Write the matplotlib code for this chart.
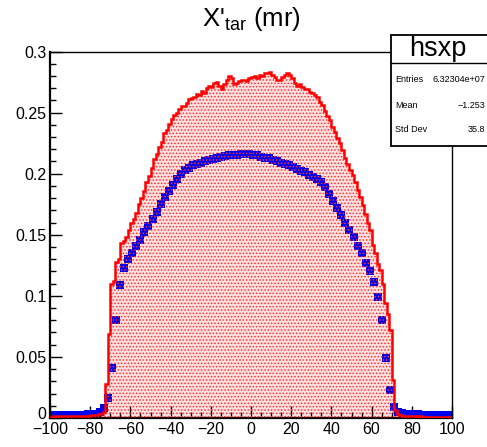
import numpy as np
import matplotlib
matplotlib.use("Agg")
import matplotlib.pyplot as plt
import matplotlib.transforms as mtransforms
from matplotlib.patches import Rectangle
from matplotlib.lines import Line2D

plt.rcParams['font.family'] = ['Liberation Sans', 'DejaVu Sans']
plt.rcParams['mathtext.fontset'] = 'custom'
plt.rcParams['mathtext.rm'] = 'Liberation Sans'
plt.rcParams['hatch.linewidth'] = 0.7

# red histogram: 160 bins of 1.25 from -100 to 100
red_edges = np.linspace(-100, 100, 161)
red_vals = [
    0.0012, 0.0013, 0.0012, 0.0013, 0.0014, 0.0013, 0.0014, 0.0015,   # -100..-90
    0.0015, 0.0016, 0.0015, 0.0017, 0.0017, 0.0018, 0.0019, 0.0020,   # -90..-80
    0.0022, 0.0024, 0.0027, 0.0030, 0.0036, 0.0050, 0.028, 0.069,     # -80..-70
    0.110, 0.112, 0.128, 0.130, 0.143, 0.145, 0.148, 0.154,           # -70..-60
    0.160, 0.163, 0.168, 0.1755, 0.180, 0.186, 0.193, 0.198,          # -60..-50
    0.205, 0.212, 0.216, 0.222, 0.226, 0.233, 0.236, 0.241,           # -50..-40
    0.245, 0.248, 0.250, 0.253, 0.2555, 0.255, 0.258, 0.261,          # -40..-30
    0.262, 0.263, 0.265, 0.264, 0.268, 0.266, 0.270, 0.272,           # -30..-20
    0.271, 0.274, 0.275, 0.272, 0.2695, 0.273, 0.2765, 0.280,         # -20..-10
    0.278, 0.2735, 0.274, 0.2755, 0.2765, 0.277, 0.276, 0.278,        # -10..0
    0.279, 0.280, 0.2785, 0.281, 0.280, 0.282, 0.2825, 0.283,         # 0..10
    0.281, 0.279, 0.277, 0.2765, 0.279, 0.281, 0.282, 0.281,          # 10..20
    0.278, 0.274, 0.272, 0.273, 0.271, 0.2695, 0.269, 0.267,          # 20..30
    0.266, 0.264, 0.263, 0.259, 0.256, 0.251, 0.247, 0.244,           # 30..40
    0.238, 0.234, 0.229, 0.225, 0.219, 0.213, 0.208, 0.203,           # 40..50
    0.199, 0.193, 0.187, 0.181, 0.174, 0.167, 0.160, 0.154,           # 50..60
    0.142, 0.135, 0.126, 0.121, 0.110, 0.094, 0.085, 0.072,           # 60..70
    0.031, 0.0065, 0.0030, 0.0022, 0.0018, 0.0016, 0.0015, 0.0014,    # 70..80
    0.0013, 0.0013, 0.0012, 0.0013, 0.0012, 0.0012, 0.0011, 0.0012,   # 80..90
    0.0011, 0.0011, 0.0012, 0.0011, 0.0010, 0.0011, 0.0010, 0.0010,   # 90..100
]

# blue points: 100 bins of 2
blue_x = np.arange(-99, 100, 2)
blue_vals = [
    0.0022, 0.0023, 0.0024, 0.0024, 0.0025, 0.0026, 0.0026, 0.0027, 0.0028, 0.0030,  # -99..-81
    0.0032, 0.0036, 0.005, 0.008, 0.016, 0.041, 0.080, 0.109, 0.123, 0.130,          # -79..-61
    0.135, 0.141, 0.146, 0.152, 0.157, 0.163, 0.169, 0.175, 0.181, 0.186,            # -59..-41
    0.191, 0.196, 0.200, 0.203, 0.205, 0.207, 0.208, 0.209, 0.210, 0.211,            # -39..-21
    0.212, 0.213, 0.214, 0.2145, 0.215, 0.2155, 0.2155, 0.216, 0.2165, 0.2165,       # -19..-1
    0.2155, 0.215, 0.214, 0.213, 0.2125, 0.2115, 0.2105, 0.209, 0.208, 0.207,        # 1..19
    0.2055, 0.204, 0.2025, 0.201, 0.199, 0.197, 0.1955, 0.193, 0.189, 0.183,         # 21..39
    0.178, 0.172, 0.166, 0.160, 0.154, 0.148, 0.141, 0.135, 0.127, 0.120,            # 41..59
    0.111, 0.099, 0.080, 0.049, 0.023, 0.009, 0.005, 0.004, 0.0035, 0.0030,          # 61..79
    0.0030, 0.0030, 0.0028, 0.0027, 0.0026, 0.0025, 0.0024, 0.0023, 0.0022, 0.0022,  # 81..99
]

x_ticks = [-100, -80, -60, -40, -20, 0, 20, 40, 60, 80, 100]
x_labels = ['\u2212100', '\u221280', '\u221260', '\u221240', '\u221220', '0',
            '20', '40', '60', '80', '100']
y_ticks = [0, 0.05, 0.1, 0.15, 0.2, 0.25, 0.3]
y_labels = ['0', '0.05', '0.1', '0.15', '0.2', '0.25', '0.3']

stat_names = ['Entries', 'Mean', 'Std Dev']
stat_values = ['6.32304e+07', '\u22121.253', '35.8']

W, H = 487, 447
fig = plt.figure(figsize=(W / 100, H / 100), dpi=100)
ax = fig.add_axes([50 / W, 1 - 418 / H, 402 / W, 366.5 / H])

# pink fill under markers, dotted hatch on top of them
ax.stairs(red_vals, red_edges, fill=True, facecolor='#ffe0e0', edgecolor='none',
          linewidth=0, zorder=1)
ax.plot(blue_x, blue_vals, 's', color='#0000ee', markersize=5.4,
        markeredgewidth=0, zorder=2)
ax.stairs(red_vals, red_edges, fill=True, facecolor='none', edgecolor='#ff3030',
          hatch='.....', linewidth=0, zorder=3)
ax.stairs(red_vals, red_edges, color='red', linewidth=1.8, zorder=4)

ax.set_xlim(-100, 100)
ax.set_ylim(0, 0.3)
ax.set_xticks(x_ticks)
ax.set_xticklabels(x_labels)
ax.set_yticks(y_ticks)
ax.set_yticklabels(y_labels)
ax.set_xticks(np.arange(-100, 101, 5), minor=True)
ax.set_yticks(np.arange(0, 0.301, 0.01), minor=True)
ax.tick_params(which='both', direction='in', top=False, right=False,
               labelsize=11.5, width=1)
ax.tick_params(which='major', length=8.5)
ax.tick_params(which='minor', length=4)
ax.tick_params(axis='x', pad=3.0)
ax.tick_params(axis='y', pad=2.5)
for s in ['left', 'bottom']:
    ax.spines[s].set_linewidth(1.6)
for s in ['top', 'right']:
    ax.spines[s].set_linewidth(1.0)

# lift the "0" y label a little so it does not run into "-100"
zero_lbl = ax.get_yticklabels()[0]
zero_lbl.set_transform(zero_lbl.get_transform() +
                       mtransforms.ScaledTranslation(0, 5 / 100, fig.dpi_scale_trans))

fig.text(251 / W, 1 - 19 / H, "X'$_{\\mathregular{tar}}$ (mr)", ha='center',
         va='center', fontsize=18.5)

# stats box
box = Rectangle((391 / W, 1 - 146 / H), 100 / W, 111 / H, transform=fig.transFigure,
                facecolor='white', edgecolor='black', linewidth=1.3, zorder=10)
fig.add_artist(box)
fig.add_artist(Line2D([391 / W, 1.0], [1 - 63 / H, 1 - 63 / H],
                      transform=fig.transFigure, color='black', linewidth=1.0,
                      zorder=11))
fig.text(438 / W, 1 - 49 / H, 'hsxp', ha='center', va='center', fontsize=19.5,
         zorder=12)
for i, (n, v) in enumerate(zip(stat_names, stat_values)):
    yy = 1 - (80 + 25 * i) / H
    fig.text(395 / W, yy, n, ha='left', va='center', fontsize=6.5, zorder=12)
    fig.text(485 / W, yy, v, ha='right', va='center', fontsize=6.5, zorder=12)

fig.savefig('out.png', dpi=100)
